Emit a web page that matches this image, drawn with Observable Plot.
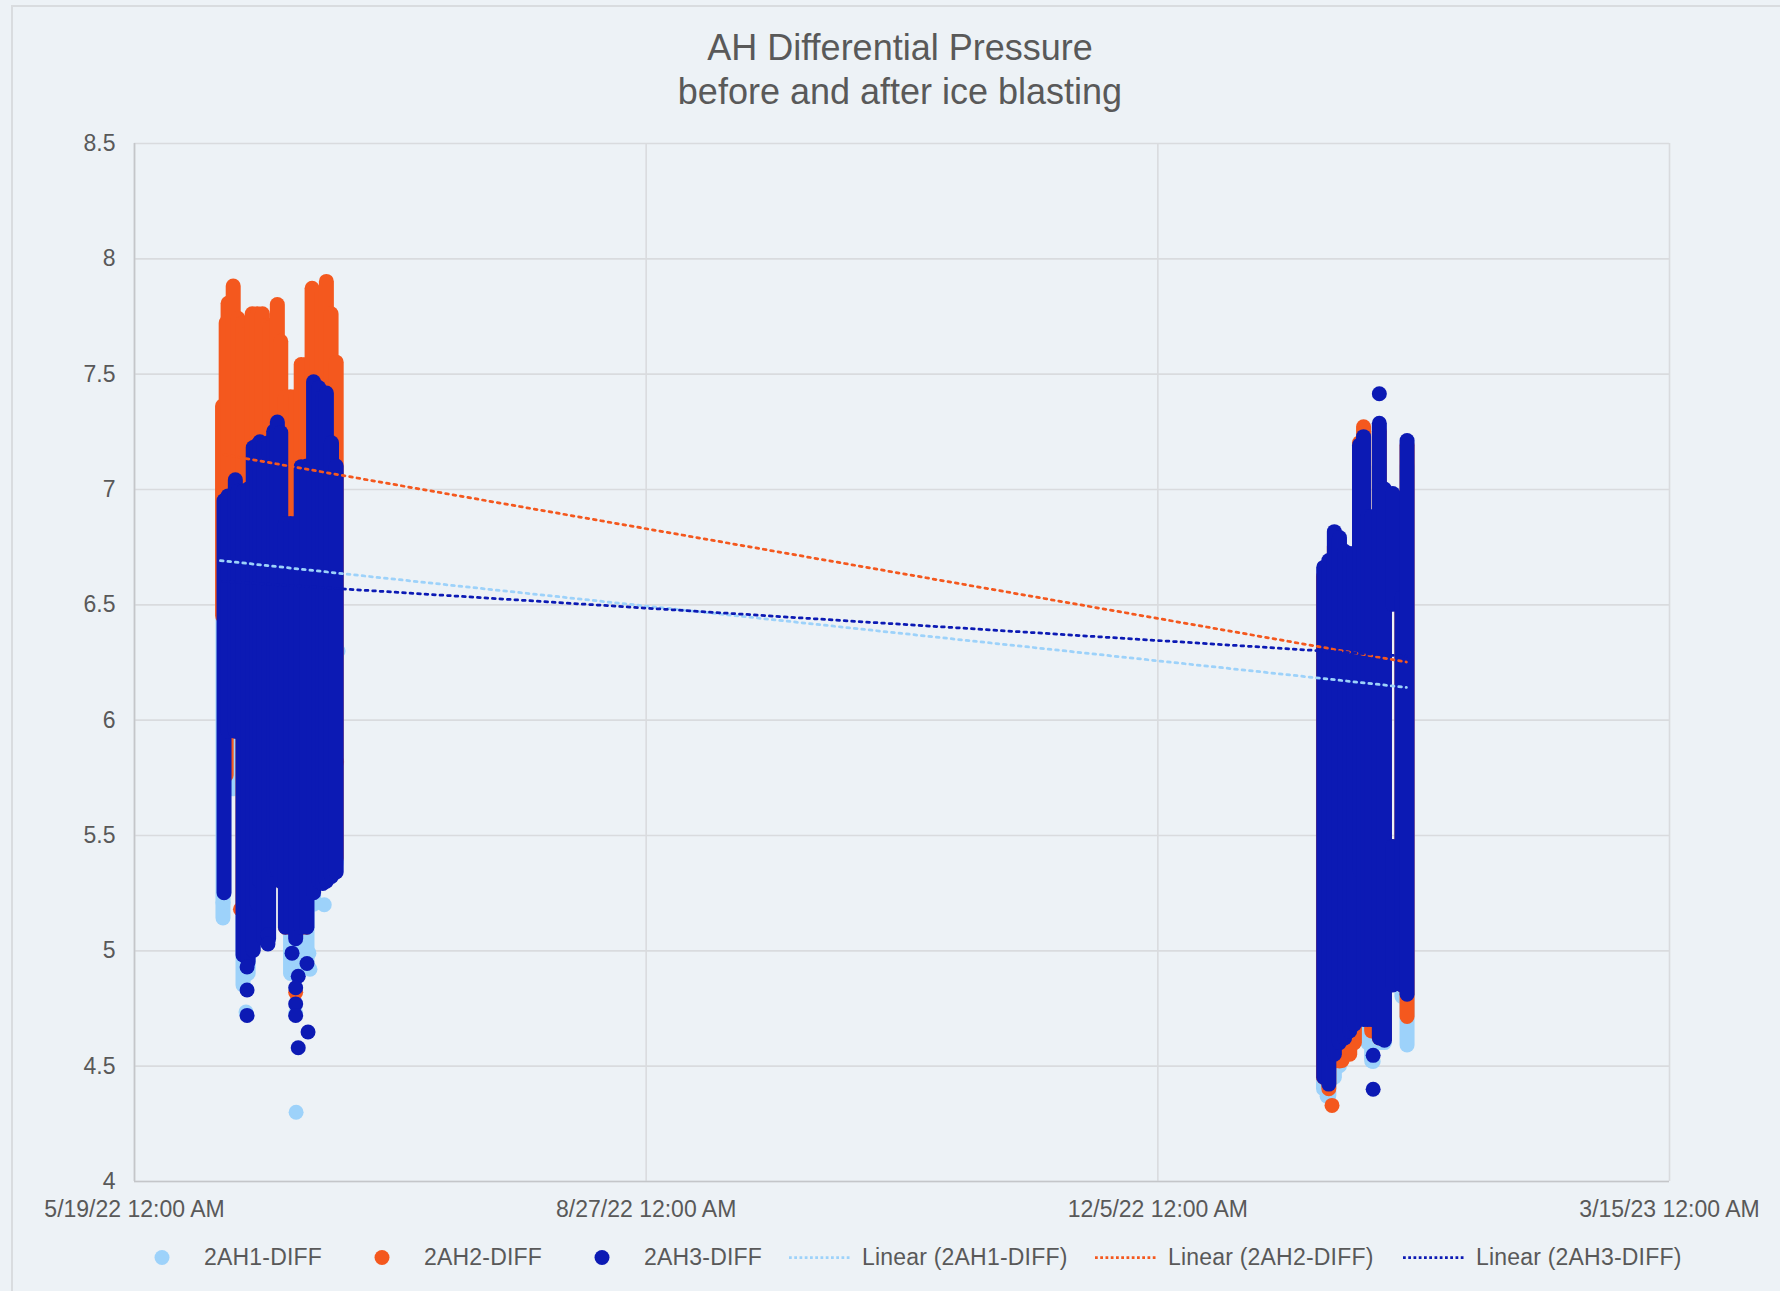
<!DOCTYPE html>
<html>
<head>
<meta charset="utf-8">
<script src="https://cdn.jsdelivr.net/npm/d3@7"></script>
<script src="https://cdn.jsdelivr.net/npm/@observablehq/plot@0.6"></script>
<style>
html, body { margin: 0; padding: 0; background: #edf2f6; width: 1780px; height: 1291px; overflow: hidden;
  font-family: "Liberation Sans", Arial, sans-serif; color: #595959; }
#frame { position: absolute; left: 11px; top: 5px; width: 1800px; height: 1320px; box-sizing: border-box;
  border-left: 2px solid #d9dcdf; border-top: 2px solid #d9dcdf; }
.title { position: absolute; left: 0; width: 1800px; text-align: center; font-size: 36px; line-height: 36px; white-space: nowrap; }
#chart { position: absolute; left: 0; top: 120px; }
.item { position: absolute; top: 1246px; height: 23px; display: flex; align-items: center;
  font-size: 23px; line-height: 23px; white-space: nowrap; letter-spacing: 0.2px; }
.item svg { margin-right: 11px; display: block; }
</style>
</head>
<body>
<div id="frame"></div>
<div class="title" style="top:30px">AH Differential Pressure</div>
<div class="title" style="top:73.5px">before and after ice blasting</div>
<div id="chart"></div>
<div id="legend"></div>
<script>
// ---- data ----
const seriesNames = ["2AH1-DIFF", "2AH2-DIFF", "2AH3-DIFF"];
const seriesColors = ["#9dd2fa", "#f4581e", "#0c1ab4"];
const xDomain = ["2022-05-19", "2023-03-15"];
const xTicks = ["2022-05-19", "2022-08-27", "2022-12-05", "2023-03-15"];
const yTicks = [4, 4.5, 5, 5.5, 6, 6.5, 7, 7.5, 8, 8.5];

// dense runs of points: [time, lowest value, highest value]
const ah1Runs = [
  ["2022-06-05T07", 5.14, 6.85], ["2022-06-06T07", 5.70, 6.90], ["2022-06-07T07", 5.70, 6.95],
  ["2022-06-08T05", 5.70, 6.95], ["2022-06-09T05", 4.85, 6.95], ["2022-06-10T05", 4.90, 6.95],
  ["2022-06-11T05", 5.20, 7.10], ["2022-06-12T12", 5.20, 7.10], ["2022-06-13T07", 5.20, 7.10],
  ["2022-06-14T05", 5.30, 7.15], ["2022-06-15T05", 5.30, 7.20], ["2022-06-16T14", 5.30, 7.20],
  ["2022-06-17T12", 5.10, 6.80], ["2022-06-18T12", 4.90, 6.80], ["2022-06-19T12", 4.90, 6.80],
  ["2022-06-20T14", 4.95, 7.05], ["2022-06-21T17", 4.95, 7.05], ["2022-06-23T00", 5.20, 7.40],
  ["2022-06-24T00", 5.30, 7.35], ["2022-06-25T12", 5.32, 7.35], ["2022-06-26T12", 5.36, 7.15],
  ["2022-06-27T10", 5.38, 7.05],
  ["2023-01-06T09", 4.40, 6.50], ["2023-01-07T10", 4.37, 6.55], ["2023-01-08T12", 4.45, 6.70],
  ["2023-01-09T12", 4.50, 6.70], ["2023-01-10T12", 4.55, 6.60], ["2023-01-11T12", 4.60, 6.60],
  ["2023-01-12T10", 4.62, 6.60], ["2023-01-13T10", 4.80, 7.10], ["2023-01-14T05", 4.70, 7.10],
  ["2023-01-15T00", 4.60, 6.80], ["2023-01-15T19", 4.52, 6.80], ["2023-01-17T07", 4.60, 7.10],
  ["2023-01-18T07", 4.60, 6.90], ["2023-01-21T17", 4.80, 6.50], ["2023-01-22T17", 4.59, 7.10]
];
const ah2Runs = [
  ["2022-06-05T05", 6.45, 7.36], ["2022-06-05T22", 5.76, 7.72], ["2022-06-06T07", 5.95, 7.805],
  ["2022-06-07T07", 5.95, 7.88],
  ["2022-06-08T05", 5.95, 7.74], ["2022-06-09T05", 5.18, 7.72], ["2022-06-09T19", 5.10, 7.67],
  ["2022-06-11T00", 5.10, 7.76], ["2022-06-12T00", 5.10, 7.76], ["2022-06-13T00", 5.10, 7.76],
  ["2022-06-14T00", 5.40, 7.71], ["2022-06-14T12", 5.40, 7.70], ["2022-06-15T22", 5.40, 7.80],
  ["2022-06-16T14", 5.30, 7.64], ["2022-06-17T12", 5.10, 7.40], ["2022-06-18T12", 5.10, 7.40],
  ["2022-06-19T12", 5.10, 7.40], ["2022-06-20T14", 5.10, 7.54], ["2022-06-21T14", 5.10, 7.54],
  ["2022-06-22T17", 5.40, 7.87], ["2022-06-23T17", 5.40, 7.85], ["2022-06-24T14", 5.40, 7.85],
  ["2022-06-25T12", 5.40, 7.90], ["2022-06-26T10", 5.40, 7.76], ["2022-06-27T10", 5.40, 7.55],
  ["2023-01-06T09", 4.45, 6.62], ["2023-01-07T10", 4.40, 6.64], ["2023-01-08T12", 4.52, 6.75],
  ["2023-01-09T12", 4.52, 6.75], ["2023-01-10T12", 4.55, 6.70], ["2023-01-11T12", 4.55, 6.70],
  ["2023-01-12T10", 4.60, 6.70], ["2023-01-13T10", 4.90, 7.20], ["2023-01-14T05", 4.75, 7.27],
  ["2023-01-15T00", 4.70, 6.85], ["2023-01-15T19", 4.65, 6.85], ["2023-01-17T07", 4.62, 7.25],
  ["2023-01-18T07", 4.62, 6.95], ["2023-01-19T22", 4.87, 5.45], ["2023-01-21T17", 4.85, 6.52],
  ["2023-01-22T17", 4.713, 7.19]
];
const ah3Runs = [
  ["2022-06-05T12", 5.25, 6.95], ["2022-06-06T07", 5.95, 6.97], ["2022-06-07T17", 5.95, 7.04],
  ["2022-06-08T05", 5.95, 6.99], ["2022-06-09T05", 4.98, 6.99], ["2022-06-10T05", 4.95, 7.00],
  ["2022-06-11T05", 5.00, 7.18], ["2022-06-12T00", 5.20, 7.19], ["2022-06-12T12", 5.30, 7.205],
  ["2022-06-13T07", 5.05, 7.19], ["2022-06-14T05", 5.05, 7.20], ["2022-06-15T05", 5.35, 7.25],
  ["2022-06-15T22", 5.35, 7.29], ["2022-06-16T14", 5.30, 7.245], ["2022-06-17T12", 5.10, 6.85],
  ["2022-06-18T12", 5.10, 6.85], ["2022-06-19T12", 5.05, 6.85], ["2022-06-20T14", 5.10, 7.097],
  ["2022-06-21T17", 5.10, 7.10], ["2022-06-23T00", 5.25, 7.465], ["2022-06-24T00", 5.30, 7.44],
  ["2022-06-24T19", 5.29, 7.40], ["2022-06-25T12", 5.30, 7.416], ["2022-06-26T12", 5.32, 7.20],
  ["2022-06-27T10", 5.34, 7.10],
  ["2023-01-06T10", 4.45, 6.66], ["2023-01-07T10", 4.42, 6.69], ["2023-01-08T12", 4.55, 6.815],
  ["2023-01-09T12", 4.60, 6.79], ["2023-01-10T12", 4.62, 6.73], ["2023-01-11T12", 4.65, 6.72],
  ["2023-01-12T10", 4.68, 6.72], ["2023-01-13T10", 5.35, 7.19], ["2023-01-14T05", 4.70, 7.227],
  ["2023-01-15T00", 4.70, 6.88], ["2023-01-15T19", 4.70, 6.88], ["2023-01-17T07", 4.62, 7.285],
  ["2023-01-18T07", 4.61, 7.00], ["2023-01-19T22", 4.85, 5.45], ["2023-01-19T22", 6.50, 6.98],
  ["2023-01-21T17", 4.85, 6.53], ["2023-01-22T17", 4.81, 7.21]
];

// isolated points: [time, value]
const ah1Points = [
  ["2022-06-05T07", 5.21], ["2022-06-09T19", 4.735], ["2022-06-19T14", 4.30], ["2022-06-22T02", 4.99],
  ["2022-06-22T07", 4.92], ["2022-06-25T02", 5.20], ["2022-06-27T19", 6.30], ["2022-06-19T12", 4.73],
  ["2022-06-14T00", 5.20], ["2023-01-07T02", 4.37], ["2023-01-09T12", 4.62], ["2023-01-16T02", 4.52]
];
const ah2Points = [
  ["2022-06-08T17", 5.18], ["2022-06-19T12", 4.82], ["2022-06-19T19", 5.09], ["2022-06-14T12", 5.49],
  ["2022-06-24T07", 5.44], ["2022-06-14T14", 5.94], ["2022-06-27T12", 5.82],
  ["2023-01-08T01", 4.33], ["2023-01-10T00", 4.525], ["2023-01-21T12", 4.87]
];
const ah3Points = [
  ["2022-06-10T00", 4.93], ["2022-06-10T00", 4.83], ["2022-06-10T00", 4.72], ["2022-06-18T19", 4.99],
  ["2022-06-20T00", 4.89], ["2022-06-19T12", 4.84], ["2022-06-19T12", 4.77], ["2022-06-19T12", 4.72],
  ["2022-06-21T17", 4.945], ["2022-06-21T22", 4.648], ["2022-06-20T00", 4.58], ["2022-06-14T02", 5.07],
  ["2022-06-14T02", 5.03],
  ["2023-01-17T07", 7.415], ["2023-01-16T02", 4.547], ["2023-01-16T02", 4.40]
];

// linear trend lines: start and end [time, value]
const ah1Trend = [["2022-06-04T19", 6.692], ["2023-01-22T14", 6.142]];
const ah2Trend = [["2022-06-05T12", 7.151], ["2023-01-22T14", 6.252]];
const ah3Trend = [["2022-06-05T07", 6.602], ["2023-01-22T14", 6.277]];

// ---- drawing ----
const parseT = d3.utcParse("%Y-%m-%dT%H");
const parseD = d3.utcParse("%Y-%m-%d");
const fmt = d3.utcFormat("%-m/%-d/%y %-I:%M %p");
const font = '"Liberation Sans", Arial, sans-serif';
const textColor = "#595959";
const R = 7.5;

const runs = [ah1Runs, ah2Runs, ah3Runs];
const points = [ah1Points, ah2Points, ah3Points];
const trends = [ah1Trend, ah2Trend, ah3Trend];

const seriesMarks = [];
runs.forEach((r, i) => {
  seriesMarks.push(Plot.ruleX(r, {x: d => parseT(d[0]), y1: d => d[1], y2: d => d[2],
    stroke: seriesColors[i], strokeWidth: 2 * R, strokeLinecap: "round"}));
  seriesMarks.push(Plot.dot(points[i], {x: d => parseT(d[0]), y: d => d[1], r: R, fill: seriesColors[i]}));
});
const trendMarks = trends.map((t, i) => Plot.line(t, {x: d => parseT(d[0]), y: d => d[1],
  stroke: seriesColors[i], strokeWidth: 2.75, strokeDasharray: "2.75 4.75"}));

const xTickDates = xTicks.map(parseD);

const chart = Plot.plot({
  width: 1780, height: 1111,
  marginTop: 23, marginBottom: 50, marginLeft: 134, marginRight: 111,
  style: {background: "transparent", fontFamily: font, fontSize: "23px", color: textColor, overflow: "visible"},
  x: {type: "utc", domain: xDomain.map(parseD)},
  y: {domain: [4, 8.5]},
  marks: [
    Plot.gridY(yTicks, {stroke: "#d9dbde", strokeOpacity: 1, strokeWidth: 1.6}),
    Plot.gridX(xTickDates, {stroke: "#d9dbde", strokeOpacity: 1, strokeWidth: 1.6}),
    Plot.ruleX([xTickDates[0]], {stroke: "#c4c6c9", strokeWidth: 1.6}),
    Plot.ruleY([4], {stroke: "#c4c6c9", strokeWidth: 1.6}),
    ...seriesMarks,
    ...trendMarks,
    Plot.axisY(yTicks, {tickSize: 0, tickPadding: 19, tickFormat: d => String(d), fontSize: 23, fill: textColor, label: null}),
    Plot.axisX(xTickDates, {tickSize: 0, tickPadding: 19, tickFormat: fmt, fontSize: 23, fill: textColor, label: null})
  ]
});
document.getElementById("chart").appendChild(chart);

// legend
const legend = document.getElementById("legend");
const ns = "http://www.w3.org/2000/svg";
const legendLefts = [131, 351, 571, 789, 1095, 1403];
let k = 0;
function addItem(kind, color, text) {
  const item = document.createElement("div");
  item.className = "item";
  item.style.left = legendLefts[k++] + "px";
  const svg = document.createElementNS(ns, "svg");
  svg.setAttribute("width", 62); svg.setAttribute("height", 23);
  if (kind === "dot") {
    const c = document.createElementNS(ns, "circle");
    c.setAttribute("cx", 31); c.setAttribute("cy", 11.5); c.setAttribute("r", R); c.setAttribute("fill", color);
    svg.appendChild(c);
  } else {
    const l = document.createElementNS(ns, "line");
    l.setAttribute("x1", 0); l.setAttribute("x2", 62); l.setAttribute("y1", 11.5); l.setAttribute("y2", 11.5);
    l.setAttribute("stroke", color); l.setAttribute("stroke-width", 2.75); l.setAttribute("stroke-dasharray", "2.75 2.5");
    svg.appendChild(l);
  }
  const span = document.createElement("span");
  span.textContent = text;
  item.appendChild(svg); item.appendChild(span);
  legend.appendChild(item);
}
seriesNames.forEach((n, i) => addItem("dot", seriesColors[i], n));
seriesNames.forEach((n, i) => addItem("line", seriesColors[i], `Linear (${n})`));
</script>
</body>
</html>
